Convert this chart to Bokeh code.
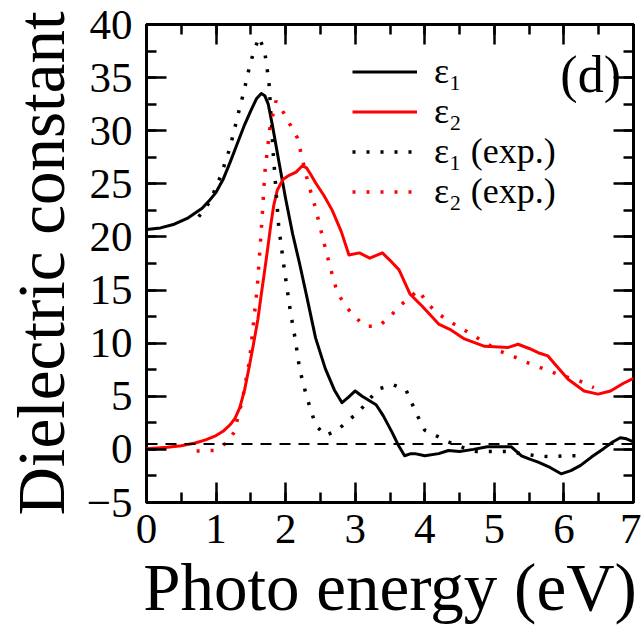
from bokeh.plotting import figure
from bokeh.models import (Range1d, LinearAxis, SingleIntervalTicker, Span,
                          Legend, LegendItem, Label, CustomJSTickFormatter)
from bokeh.embed import file_html
from bokeh.resources import INLINE

# ---- data ----
eps1_x = [0, 0.2, 0.4, 0.6, 0.8, 0.9, 1.0, 1.1, 1.2, 1.3, 1.4, 1.5, 1.58, 1.65,
          1.7, 1.75, 1.81, 1.9, 2.0, 2.1, 2.2, 2.3, 2.43, 2.57, 2.7, 2.81, 2.9, 3.0,
          3.1, 3.2, 3.3, 3.4, 3.53, 3.62, 3.71, 3.8, 3.86, 4.0, 4.2, 4.34, 4.5, 4.7,
          4.9, 5.24, 5.39, 5.5, 5.63, 5.8, 5.96, 6.1, 6.24, 6.4, 6.57, 6.7, 6.81,
          6.9, 7.0]
eps1_y = [20.7, 20.85, 21.2, 21.8, 22.7, 23.4, 24.2, 25.4, 27.0, 28.7, 30.4, 31.9, 33.0, 33.5,
          33.3, 32.5, 30.5, 27.2, 23.6, 20.3, 17.5, 14.5, 10.5, 7.6, 5.6, 4.4, 4.9, 5.5,
          5.0, 4.6, 4.2, 3.2, 1.6, 0.4, -0.6, -0.4, -0.4, -0.6, -0.4, -0.1, -0.2, 0.0,
          0.25, 0.25, -0.6, -0.9, -1.2, -1.7, -2.3, -2.0, -1.5, -0.7, 0.07, 0.7, 1.1,
          1.0, 0.7]

eps2_x = [0, 0.3, 0.5, 0.7, 0.85, 1.0, 1.1, 1.2, 1.27, 1.34, 1.41, 1.48, 1.54, 1.6,
          1.65, 1.7, 1.75, 1.79, 1.83, 1.88, 1.96, 2.05, 2.15, 2.24, 2.3, 2.35, 2.43,
          2.55, 2.67, 2.8, 2.91, 3.06, 3.21, 3.39, 3.5, 3.63, 3.79, 3.96, 4.2,
          4.36, 4.57, 4.86, 5.2, 5.34, 5.5, 5.63, 5.77, 5.9, 6.06, 6.29, 6.49, 6.67,
          6.85, 7.0]
eps2_y = [0.05, 0.2, 0.35, 0.6, 0.9, 1.3, 1.7, 2.3, 2.9, 3.9, 5.6, 7.9, 10.0, 12.2,
          14.6, 16.9, 19.3, 21.3, 23.0, 24.4, 25.4, 25.8, 26.1, 26.7, 26.5, 26.0, 25.1,
          23.9, 22.5, 20.5, 18.3, 18.5, 18.0, 18.5, 17.8, 16.9, 14.6, 13.5, 11.8,
          11.3, 10.4, 9.7, 9.6, 9.9, 9.5, 9.1, 8.8, 7.8, 6.6, 5.5, 5.2, 5.5,
          6.2, 6.7]

eps1_exp_x = [0.75, 0.91, 1.07, 1.2, 1.3, 1.4, 1.49, 1.55, 1.62, 1.7, 1.76, 1.82, 1.9,
              1.98, 2.07, 2.14, 2.2, 2.3, 2.43, 2.57, 2.74, 2.9, 3.06, 3.2, 3.34, 3.54,
              3.73, 3.81, 3.9, 4.0, 4.16, 4.34, 4.56, 4.74, 4.96, 5.17, 5.4, 5.6, 5.81,
              6.03, 6.25]
eps1_exp_y = [21.9, 23.3, 25.8, 28.4, 31.1, 33.7, 36.3, 37.6, 38.8, 37.4, 34.6, 28.0, 21.0,
              17.0, 12.9, 10.3, 7.6, 5.0, 2.3, 1.3, 1.8, 2.7, 3.6, 4.7, 5.7, 6.1,
              5.6, 4.4, 3.1, 1.8, 1.3, 0.7, 0.15, -0.2, -0.2, -0.2, -0.4, -0.6, -0.7,
              -0.6, -0.6]

eps2_exp_x = [0.72, 0.97, 1.15, 1.27, 1.31, 1.37, 1.48, 1.59, 1.65, 1.7, 1.77, 1.86,
              1.97, 2.07, 2.17, 2.31, 2.43, 2.53, 2.63, 2.74, 2.86, 2.99, 3.14, 3.34,
              3.5, 3.64, 3.8, 3.91, 4.03, 4.17, 4.34, 4.53, 4.7, 4.88, 5.06, 5.26, 5.46,
              5.66, 5.86, 6.05, 6.24, 6.43]
eps2_exp_y = [-0.15, -0.1, 0.6, 1.7, 3.0, 4.4, 8.3, 15.1, 20.6, 26.0, 30.1, 32.8,
              31.7, 30.5, 29.3, 25.4, 22.7, 20.0, 17.4, 14.8, 13.5, 12.5, 11.6, 11.6,
              12.5, 13.5, 14.4, 15.0, 13.8, 12.9, 12.1, 11.4, 10.7, 10.0, 9.3, 8.8, 8.2,
              7.7, 7.2, 6.8, 6.4, 5.8]

ref_level = 0.5
labels = ["\u03b5\u2081", "\u03b5\u2082", "\u03b5\u2081 (exp.)", "\u03b5\u2082 (exp.)"]
panel_tag = "(d)"
x_title = "Photo energy (eV)"
y_title = "Dielectric constant"

FONT = "Liberation Serif"

p = figure(width=641, height=626, x_range=Range1d(0, 7), y_range=Range1d(-5, 40),
           output_backend="svg", toolbar_location=None,
           min_border_left=143, min_border_right=8, min_border_top=24,
           min_border_bottom=122)
p.xgrid.visible = False
p.ygrid.visible = False
p.outline_line_color = "black"
p.outline_line_width = 3
p.background_fill_color = "white"
p.border_fill_color = "white"


def style_axis(ax, interval, labels_on=True):
    ax.ticker = SingleIntervalTicker(interval=interval, num_minor_ticks=2)
    ax.axis_line_color = None
    ax.major_tick_in = 20
    ax.major_tick_out = 0
    ax.minor_tick_in = 10
    ax.minor_tick_out = 0
    ax.major_tick_line_width = 2.5
    ax.minor_tick_line_width = 2.5
    ax.major_tick_line_color = "black"
    ax.minor_tick_line_color = "black"
    if labels_on:
        ax.major_label_text_font = FONT
        ax.major_label_text_font_size = "43px"
        ax.major_label_text_color = "black"
        ax.axis_label_text_font = FONT
        ax.axis_label_text_font_size = "67px"
        ax.axis_label_text_font_style = "normal"
        ax.axis_label_text_color = "black"
    else:
        ax.formatter = CustomJSTickFormatter(code="return ''")
        ax.major_label_standoff = 0


xa = p.xaxis[0]
ya = p.yaxis[0]
style_axis(xa, 1)
style_axis(ya, 5)
xa.axis_label = x_title
ya.axis_label = y_title
xa.major_label_standoff = 12
ya.major_label_standoff = 14
xa.axis_label_standoff = 4
ya.axis_label_standoff = 6

top = LinearAxis()
style_axis(top, 1, labels_on=False)
p.add_layout(top, "above")
right = LinearAxis()
style_axis(right, 5, labels_on=False)
p.add_layout(right, "right")

p.add_layout(Span(location=ref_level, dimension="width", line_color="black",
                  line_width=2, line_dash="11 8"))

r1 = p.line(eps1_x, eps1_y, line_color="black", line_width=3, line_join="round")
r2 = p.line(eps2_x, eps2_y, line_color="red", line_width=3, line_join="round")
r3 = p.line(eps1_exp_x, eps1_exp_y, line_color="black", line_width=3.5,
            line_dash="3 11")
r4 = p.line(eps2_exp_x, eps2_exp_y, line_color="red", line_width=3.5,
            line_dash="3 11")

# one legend per row so each row sits where the reference puts it
row_offsets = [410, 370, 330, 290]
for lab, rend, yoff in zip(labels, [r1, r2, r3, r4], row_offsets):
    lg = Legend(items=[LegendItem(label=lab, renderers=[rend])],
                location=(206, yoff), orientation="vertical",
                glyph_width=65, glyph_height=41, label_height=41,
                label_standoff=17, spacing=0, padding=0, margin=0,
                label_text_font=FONT, label_text_font_size="36px",
                label_text_color="black",
                border_line_color=None, background_fill_alpha=0)
    p.add_layout(lg, "center")

p.add_layout(Label(x=6.82, y=35.25, text=panel_tag, text_align="right",
                   text_baseline="middle", text_font=FONT,
                   text_font_size="52px", text_color="black"))

open("out.html", "w").write(file_html(p, INLINE))
